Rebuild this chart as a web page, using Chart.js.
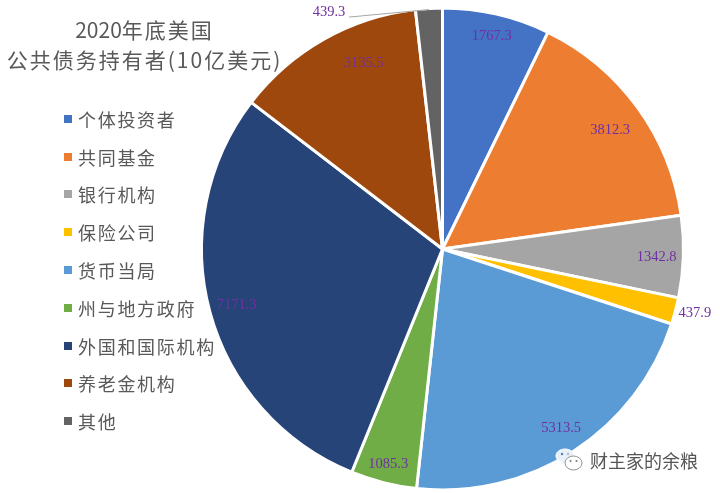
<!DOCTYPE html>
<html>
<head>
<meta charset="utf-8">
<script src="https://cdn.jsdelivr.net/npm/chart.js@4"></script>
<style>
  html, body { margin: 0; padding: 0; background: #fff; }
  #wrap { position: relative; width: 720px; height: 493px; overflow: hidden; font-family: "Noto Sans CJK SC", sans-serif; color: #595959; }
  #title { position: absolute; left: 0; top: 14px; width: 289px; text-align: center; font-size: 21px; line-height: 30px; letter-spacing: 2px; }
  #title span { letter-spacing: 0; }
  #legend { position: absolute; left: 64px; top: 100px; margin: 0; padding: 0; list-style: none; font-size: 18px; letter-spacing: 1.7px; }
  #legend li { display: flex; align-items: center; height: 37.8px; white-space: nowrap; }
  #legend i { display: block; width: 8px; height: 8px; margin-right: 6px; }
  #mark { position: absolute; left: 590px; top: 448px; font-size: 18px; line-height: 24px; color: #555; text-shadow: 0 0 2px #fff, 0 0 2px #fff; }
  #icon { position: absolute; left: 555px; top: 447px; }
</style>
</head>
<body>
<div id="wrap">
  <canvas id="pie" width="720" height="493"></canvas>
  <div id="title"><span>2020</span>年底美国<br>公共债务持有者(10亿美元)</div>
  <ul id="legend"></ul>
  <svg id="icon" width="30" height="28" viewBox="0 0 30 28">
    <path d="M10 2c5 0 9 3 9 7s-4 7-9 7l-4 2 1-3c-3-1-6-3-6-6 0-4 4-7 9-7z" fill="#e8f1fa" stroke="#fff" stroke-width="1"/>
    <ellipse cx="18.5" cy="16" rx="8.5" ry="7" fill="#fff" stroke="#777" stroke-width="0.8"/>
    <circle cx="7" cy="7" r="1.2" fill="#4a7fc0"/><circle cx="13" cy="7" r="1.2" fill="#bbb"/>
    <circle cx="15.5" cy="14" r="1" fill="#777"/><circle cx="21.5" cy="14" r="1" fill="#777"/>
  </svg>
  <div id="mark">财主家的余粮</div>
</div>
<script>
const categories = ['个体投资者', '共同基金', '银行机构', '保险公司', '货币当局', '州与地方政府', '外国和国际机构', '养老金机构', '其他'];
const holdings = [1767.3, 3812.3, 1342.8, 437.9, 5313.5, 1085.3, 7171.3, 3135.5, 439.3];
const colors = ['#4472C4', '#ED7D31', '#A5A5A5', '#FFC000', '#5B9BD5', '#70AD47', '#264478', '#9E480E', '#636363'];

// label position around each slice: radius factor and a small shift in px
const labelRadius = [0.91, 0.85, 0.885, 1.075, 0.885, 0.92, 0.885, 0.85, 0.995];
const labelShift = [[0, 1], [2, 2], [1, 1], [2, -2], [3, 0], [0, 0], [0, 0], [22, -7], [-100, 3]];

// html legend
const legendEl = document.getElementById('legend');
categories.forEach((name, i) => {
  const li = document.createElement('li');
  const box = document.createElement('i');
  box.style.background = colors[i];
  li.appendChild(box);
  li.appendChild(document.createTextNode(name));
  legendEl.appendChild(li);
});

// value labels, last one has a leader line
const valueLabels = {
  id: 'valueLabels',
  afterDatasetsDraw(chart) {
    const ctx = chart.ctx;
    const arcs = chart.getDatasetMeta(0).data;
    ctx.save();
    ctx.font = '14.5px "Liberation Serif", serif';
    ctx.fillStyle = '#7030A0';
    ctx.textAlign = 'center';
    ctx.textBaseline = 'middle';
    arcs.forEach((arc, i) => {
      const mid = (arc.startAngle + arc.endAngle) / 2;
      const r = arc.outerRadius * labelRadius[i];
      const x = arc.x + Math.cos(mid) * r + labelShift[i][0];
      const y = arc.y + Math.sin(mid) * r + labelShift[i][1];
      ctx.fillText(holdings[i].toFixed(1), x, y);
      if (i === arcs.length - 1) {
        ctx.strokeStyle = '#A6A6A6';
        ctx.lineWidth = 1;
        ctx.beginPath();
        ctx.moveTo(x + 20, y + 4.5);
        ctx.lineTo(arc.x + Math.cos(mid) * r, arc.y + Math.sin(mid) * r);
        ctx.stroke();
      }
    });
    ctx.restore();
  }
};

new Chart(document.getElementById('pie').getContext('2d'), {
  type: 'pie',
  data: {
    labels: categories,
    datasets: [{
      data: holdings,
      backgroundColor: colors,
      borderColor: '#fff',
      borderWidth: 3
    }]
  },
  options: {
    responsive: false,
    animation: false,
    layout: { padding: { left: 200, right: 35, top: 6, bottom: 1 } },
    plugins: {
      legend: { display: false },
      title: { display: false },
      tooltip: { enabled: false }
    }
  },
  plugins: [valueLabels]
});
</script>
</body>
</html>
